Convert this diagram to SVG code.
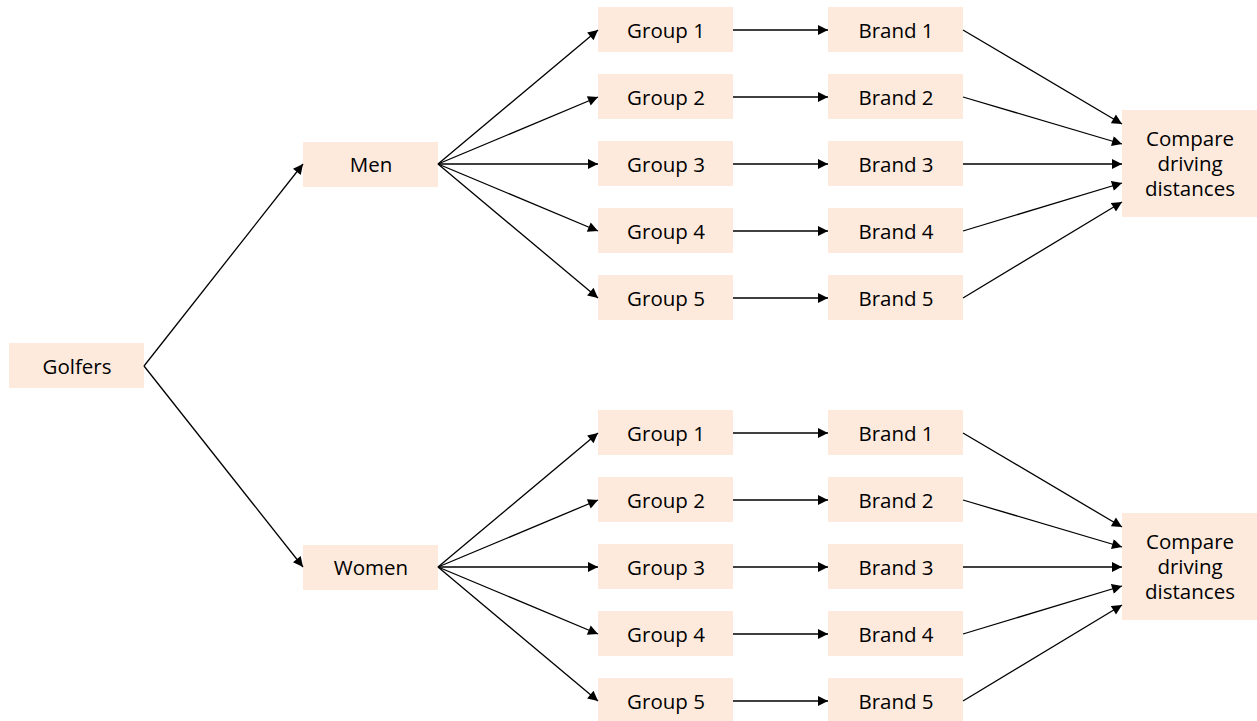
<svg xmlns="http://www.w3.org/2000/svg" width="1257" height="721" viewBox="0 0 1257 721">
<defs>
<style>
.n rect{fill:#fdeadd}
.n text{font-family:"Open Sans","Noto Sans","Liberation Sans",sans-serif;font-size:20.5px;fill:#000;text-anchor:middle;dominant-baseline:central}
.c line{stroke:#000;stroke-width:1.3;marker-end:url(#ah)}
</style>
<marker id="ah" viewBox="0 0 10 10" refX="10" refY="5" markerWidth="11" markerHeight="10" markerUnits="userSpaceOnUse" orient="auto"><path d="M0,0L10,5L0,10z" fill="#000"/></marker>
</defs>
<rect width="1257" height="721" fill="#fff"/>
<g id="golfers" class="n"><rect x="9" y="343" width="135" height="45"/><text x="77" y="366">Golfers</text></g>
<g id="men" class="n"><rect x="303" y="142" width="135" height="45"/><text x="371" y="164">Men</text></g>
<g id="women" class="n"><rect x="303" y="545" width="135" height="45"/><text x="371" y="567">Women</text></g>
<g id="m-g1" class="n"><rect x="598" y="7" width="135" height="45"/><text x="666" y="30">Group 1</text></g>
<g id="m-g2" class="n"><rect x="598" y="74" width="135" height="45"/><text x="666" y="97">Group 2</text></g>
<g id="m-g3" class="n"><rect x="598" y="141" width="135" height="45"/><text x="666" y="164">Group 3</text></g>
<g id="m-g4" class="n"><rect x="598" y="208" width="135" height="45"/><text x="666" y="231">Group 4</text></g>
<g id="m-g5" class="n"><rect x="598" y="275" width="135" height="45"/><text x="666" y="298">Group 5</text></g>
<g id="m-b1" class="n"><rect x="828" y="7" width="135" height="45"/><text x="896" y="30">Brand 1</text></g>
<g id="m-b2" class="n"><rect x="828" y="74" width="135" height="45"/><text x="896" y="97">Brand 2</text></g>
<g id="m-b3" class="n"><rect x="828" y="141" width="135" height="45"/><text x="896" y="164">Brand 3</text></g>
<g id="m-b4" class="n"><rect x="828" y="208" width="135" height="45"/><text x="896" y="231">Brand 4</text></g>
<g id="m-b5" class="n"><rect x="828" y="275" width="135" height="45"/><text x="896" y="298">Brand 5</text></g>
<g id="m-cmp" class="n"><rect x="1122" y="110" width="135" height="107"/><text x="1190" y="138">Compare</text><text x="1190" y="163">driving</text><text x="1190" y="188">distances</text></g>
<g id="w-g1" class="n"><rect x="598" y="410" width="135" height="45"/><text x="666" y="433">Group 1</text></g>
<g id="w-g2" class="n"><rect x="598" y="477" width="135" height="45"/><text x="666" y="500">Group 2</text></g>
<g id="w-g3" class="n"><rect x="598" y="544" width="135" height="45"/><text x="666" y="567">Group 3</text></g>
<g id="w-g4" class="n"><rect x="598" y="611" width="135" height="45"/><text x="666" y="634">Group 4</text></g>
<g id="w-g5" class="n"><rect x="598" y="678" width="135" height="43"/><text x="666" y="701">Group 5</text></g>
<g id="w-b1" class="n"><rect x="828" y="410" width="135" height="45"/><text x="896" y="433">Brand 1</text></g>
<g id="w-b2" class="n"><rect x="828" y="477" width="135" height="45"/><text x="896" y="500">Brand 2</text></g>
<g id="w-b3" class="n"><rect x="828" y="544" width="135" height="45"/><text x="896" y="567">Brand 3</text></g>
<g id="w-b4" class="n"><rect x="828" y="611" width="135" height="45"/><text x="896" y="634">Brand 4</text></g>
<g id="w-b5" class="n"><rect x="828" y="678" width="135" height="43"/><text x="896" y="701">Brand 5</text></g>
<g id="w-cmp" class="n"><rect x="1122" y="513" width="135" height="107"/><text x="1190" y="541">Compare</text><text x="1190" y="566">driving</text><text x="1190" y="591">distances</text></g>
<g id="connectors" class="c">
<line x1="144" y1="366" x2="303" y2="164"/>
<line x1="144" y1="366" x2="303" y2="567"/>
<line x1="438" y1="164" x2="598" y2="30"/>
<line x1="438" y1="164" x2="598" y2="97"/>
<line x1="438" y1="164" x2="598" y2="164"/>
<line x1="438" y1="164" x2="598" y2="231"/>
<line x1="438" y1="164" x2="598" y2="298"/>
<line x1="733" y1="30" x2="828" y2="30"/>
<line x1="733" y1="97" x2="828" y2="97"/>
<line x1="733" y1="164" x2="828" y2="164"/>
<line x1="733" y1="231" x2="828" y2="231"/>
<line x1="733" y1="298" x2="828" y2="298"/>
<line x1="963" y1="30" x2="1122" y2="124"/>
<line x1="963" y1="97" x2="1122" y2="144"/>
<line x1="963" y1="164" x2="1122" y2="164"/>
<line x1="963" y1="231" x2="1122" y2="183"/>
<line x1="963" y1="298" x2="1122" y2="202"/>
<line x1="438" y1="567" x2="598" y2="433"/>
<line x1="438" y1="567" x2="598" y2="500"/>
<line x1="438" y1="567" x2="598" y2="567"/>
<line x1="438" y1="567" x2="598" y2="634"/>
<line x1="438" y1="567" x2="598" y2="701"/>
<line x1="733" y1="433" x2="828" y2="433"/>
<line x1="733" y1="500" x2="828" y2="500"/>
<line x1="733" y1="567" x2="828" y2="567"/>
<line x1="733" y1="634" x2="828" y2="634"/>
<line x1="733" y1="701" x2="828" y2="701"/>
<line x1="963" y1="433" x2="1122" y2="527"/>
<line x1="963" y1="500" x2="1122" y2="547"/>
<line x1="963" y1="567" x2="1122" y2="567"/>
<line x1="963" y1="634" x2="1122" y2="586"/>
<line x1="963" y1="701" x2="1122" y2="605"/>
</g>
</svg>
